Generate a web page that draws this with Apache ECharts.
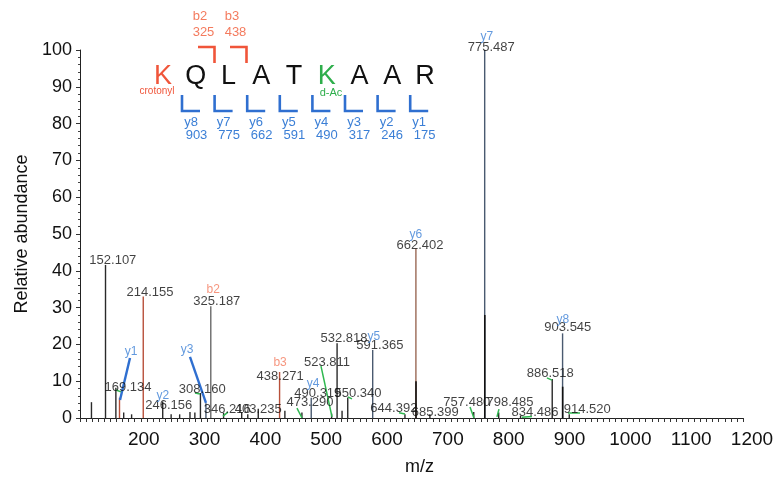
<!DOCTYPE html>
<html>
<head>
<meta charset="utf-8">
<script src="https://cdn.jsdelivr.net/npm/echarts@6/dist/echarts.min.js"></script>
<style>
  html, body { margin: 0; padding: 0; background: #fff; }
  #echarts { width: 781px; height: 486px; }
</style>
</head>
<body>
<div id="echarts"></div>
<script>
// peaks: m/z, relative abundance, kind (plain / red = matched b-type / ion = y-type)
var mz = [129, 152.107, 169.134, 175.1, 182, 195, 214.155, 246.156, 260, 274, 291, 299, 308.160, 317.2, 325.187,
          346.216, 376, 386, 403.235, 438.271, 447, 475, 490.319, 523.811, 532.818, 541, 550.340, 591.365,
          644.392, 662.402, 685.399, 757.480, 775.487, 798.485, 834.486, 886.518, 903.545, 914.520];
var intensity = [4.3, 41.6, 8.2, 5.5, 1.5, 1, 33, 4.5, 1, 1, 1.6, 1.5, 6.8, 4, 30.4,
                 1.4, 1.6, 1, 2.5, 12.5, 2, 1.5, 5.5, 1.2, 20.3, 2, 5.6, 18.5,
                 1, 46, 1, 1.6, 100, 1.5, 0.6, 10.6, 23, 1];
var kind = ['', '', '', 'red', '', '', 'red', '', '', '', '', '', '', 'ion', 'grey',
            '', '', '', '', 'red', '', '', 'ion', '', '', '', '', 'ion',
            '', 'brown', '', '', 'ion', '', '', '', 'ion', ''];

// darker inner part of overlapping peaks
var coreMz = [662.402, 775.487, 903.545];
var coreIntensity = [10, 28, 8.5];

// peak value labels: text and anchor (m/z, abundance)
var labelText = ['152.107', '214.155', '325.187', '169.134', '246.156', '308.160', '346.216', '403.235',
                 '438.271', '473.290', '490.319', '523.811', '532.818', '550.340', '591.365', '644.392',
                 '662.402', '685.399', '757.480', '775.487', '798.485', '834.486', '886.518', '903.545', '914.520'];
var labelAt = [[164, 42.9], [225, 34.2], [335, 31.8], [189, 8.4], [256, 3.5], [311, 7.9], [352, 2.4], [403, 2.4],
               [439, 11.4], [488, 4.1], [501, 6.8], [516, 15.2], [544, 21.5], [567, 6.8], [603, 19.8], [626, 2.7],
               [669, 47.0], [694, 1.4], [746, 4.3], [786, 100.8], [817, 4.1], [858, 1.4], [883, 12.0], [912, 24.5], [944, 2.2]];

// fragment ion tags above peaks
var ionText = ['y1', 'y2', 'y3', 'b2', 'b3', 'y4', 'y5', 'y6', 'y7', 'y8'];
var ionAt = [[194, 17.9], [246, 6.0], [286, 18.5], [329, 35.0], [439, 14.9], [493, 9.2],
             [593, 22.0], [662, 49.7], [779, 103.5], [904, 26.6]];

// leader lines: [m1, h1, m2, h2, family]
var leaders = [
  [192.2, 16.3, 175.8, 4.9, 'y'], [290.8, 16.6, 317.1, 4.1, 'y'],
  [169.2, 7.6, 177.4, 7.1, 'g'], [299.1, 6.8, 307.3, 6.5, 'g'], [345.1, 0.5, 353.3, 1.6, 'g'],
  [466.7, 2.7, 475.0, 0, 'g'], [506.2, 14.1, 524.3, 0.3, 'g'], [550.6, 5.7, 557.2, 5.2, 'g'],
  [634.4, 1.4, 644.3, 1.1, 'g'], [751.2, 3.0, 757.7, 0, 'g'], [798.8, 2.4, 795.5, 0.3, 'g'],
  [836.6, 0.2, 853, 0.4, 'g'], [877.7, 10.9, 886.0, 10.3, 'g'], [912.3, 1.4, 932.0, 1.4, 'g']
];

// peptide sequence panel
var residues = ['K', 'Q', 'L', 'A', 'T', 'K', 'A', 'A', 'R'];
var yIons = [903, 775, 662, 591, 490, 317, 246, 175];
var bIons = [325, 438];

var RED = '#f0553a', GREEN = '#2eae4b', BLUE = '#2f6fd0', LBLUE = '#3b7fd6', ORANGE = '#f47b5e';
var peakColor = { '': '#2a2a2a', red: '#b8503a', grey: '#6a6a6a', ion: '#4a5a70', brown: '#9a6a55' };
var FONT = 'Liberation Sans, Arial, sans-serif';

var myChart = echarts.init(document.getElementById('echarts'));

var graphic = [];
residues.forEach(function (r, i) {
    graphic.push({
        type: 'text', x: 163 + i * 32.75, y: 77,
        style: { text: r, font: '27px ' + FONT, fill: i === 0 ? RED : (i === 5 ? GREEN : '#111'),
                 textAlign: 'center', textVerticalAlign: 'middle' }
    });
});
graphic.push({ type: 'text', x: 157, y: 91, style: { text: 'crotonyl', font: '10px ' + FONT, fill: RED, textAlign: 'center', textVerticalAlign: 'middle' } });
graphic.push({ type: 'text', x: 331, y: 93, style: { text: 'd-Ac', font: '11px ' + FONT, fill: GREEN, textAlign: 'center', textVerticalAlign: 'middle' } });
yIons.forEach(function (v, i) {
    var x = 182 + i * 32.6;
    graphic.push({ type: 'polyline', shape: { points: [[x, 95], [x, 111], [x + 18, 111]] }, style: { stroke: BLUE, lineWidth: 2.6, fill: null } });
    graphic.push({ type: 'text', x: x + 9, y: 122, style: { text: 'y' + (8 - i), font: '13px ' + FONT, fill: LBLUE, textAlign: 'center', textVerticalAlign: 'middle' } });
    graphic.push({ type: 'text', x: x + 14.5, y: 135, style: { text: String(v), font: '13px ' + FONT, fill: LBLUE, textAlign: 'center', textVerticalAlign: 'middle' } });
});
bIons.forEach(function (v, j) {
    var x = 198 + j * 32;
    graphic.push({ type: 'polyline', shape: { points: [[x, 47], [x + 16.5, 47], [x + 16.5, 63]] }, style: { stroke: RED, lineWidth: 2.6, fill: null } });
    graphic.push({ type: 'text', x: x + 2, y: 16, style: { text: 'b' + (j + 2), font: '13px ' + FONT, fill: ORANGE, textAlign: 'center', textVerticalAlign: 'middle' } });
    graphic.push({ type: 'text', x: x + 5.5, y: 32, style: { text: String(v), font: '13px ' + FONT, fill: ORANGE, textAlign: 'center', textVerticalAlign: 'middle' } });
});

var option = {
    animation: false,
    textStyle: { fontFamily: FONT },
    grid: { left: 80, right: 38, top: 50, bottom: 68, containLabel: false },
    xAxis: {
        type: 'value', min: 110, max: 1200, interval: 10,
        name: 'm/z', nameLocation: 'middle', nameGap: 40,
        nameTextStyle: { fontSize: 18, color: '#111', padding: [0, 0, 0, 16] },
        axisLine: { lineStyle: { color: '#222', width: 1 } },
        axisTick: { length: 4, lineStyle: { color: '#333' } },
        axisLabel: {
            fontSize: 19, color: '#111', margin: 12, padding: [0, 0, 0, 18],
            formatter: function (v) { return (v % 100 === 0 && v >= 200) ? String(v) : ''; }
        },
        splitLine: { show: false }
    },
    yAxis: {
        type: 'value', min: 0, max: 100, interval: 10,
        name: 'Relative abundance', nameLocation: 'middle', nameGap: 48,
        nameTextStyle: { fontSize: 18, color: '#111' },
        axisLine: { show: true, lineStyle: { color: '#222', width: 1 } },
        axisTick: { show: true, length: 4, lineStyle: { color: '#333' } },
        minorTick: { show: true, splitNumber: 5, length: 2, lineStyle: { color: '#444' } },
        axisLabel: { fontSize: 18, color: '#111', margin: 8 },
        splitLine: { show: false }
    },
    graphic: graphic,
    series: [
        {
            type: 'bar', barWidth: 1.4, barGap: '-100%',
            data: mz.map(function (m, i) {
                return { value: [m, intensity[i]], itemStyle: { color: peakColor[kind[i]] } };
            })
        },
        {
            type: 'bar', barWidth: 1.6, barGap: '-100%', z: 3,
            itemStyle: { color: '#111' },
            data: coreMz.map(function (m, i) { return [m, coreIntensity[i]]; })
        },
        {
            type: 'lines', coordinateSystem: 'cartesian2d', clip: false, z: 4,
            data: leaders.map(function (l) {
                return { coords: [[l[0], l[1]], [l[2], l[3]]],
                         lineStyle: { color: l[4] === 'y' ? BLUE : '#2fb850', width: l[4] === 'y' ? 2.4 : 1.5, opacity: 1 } };
            })
        },
        {
            type: 'scatter', symbolSize: 0, clip: false, z: 5, silent: true,
            data: labelAt.map(function (p, i) { return [p[0], p[1], labelText[i]]; }),
            label: {
                show: true, position: 'inside', fontSize: 13, color: '#111',
                formatter: function (p) { return p.data[2]; }
            }
        },
        {
            type: 'scatter', symbolSize: 0, clip: false, z: 5, silent: true,
            data: ionAt.map(function (p, i) {
                return { value: [p[0], p[1], ionText[i]],
                         label: { color: ionText[i].charAt(0) === 'b' ? ORANGE : LBLUE } };
            }),
            label: {
                show: true, position: 'inside', fontSize: 12,
                formatter: function (p) { return p.value[2]; }
            },
            itemStyle: { color: 'transparent' }
        }
    ]
};

myChart.setOption(option);
</script>
</body>
</html>
